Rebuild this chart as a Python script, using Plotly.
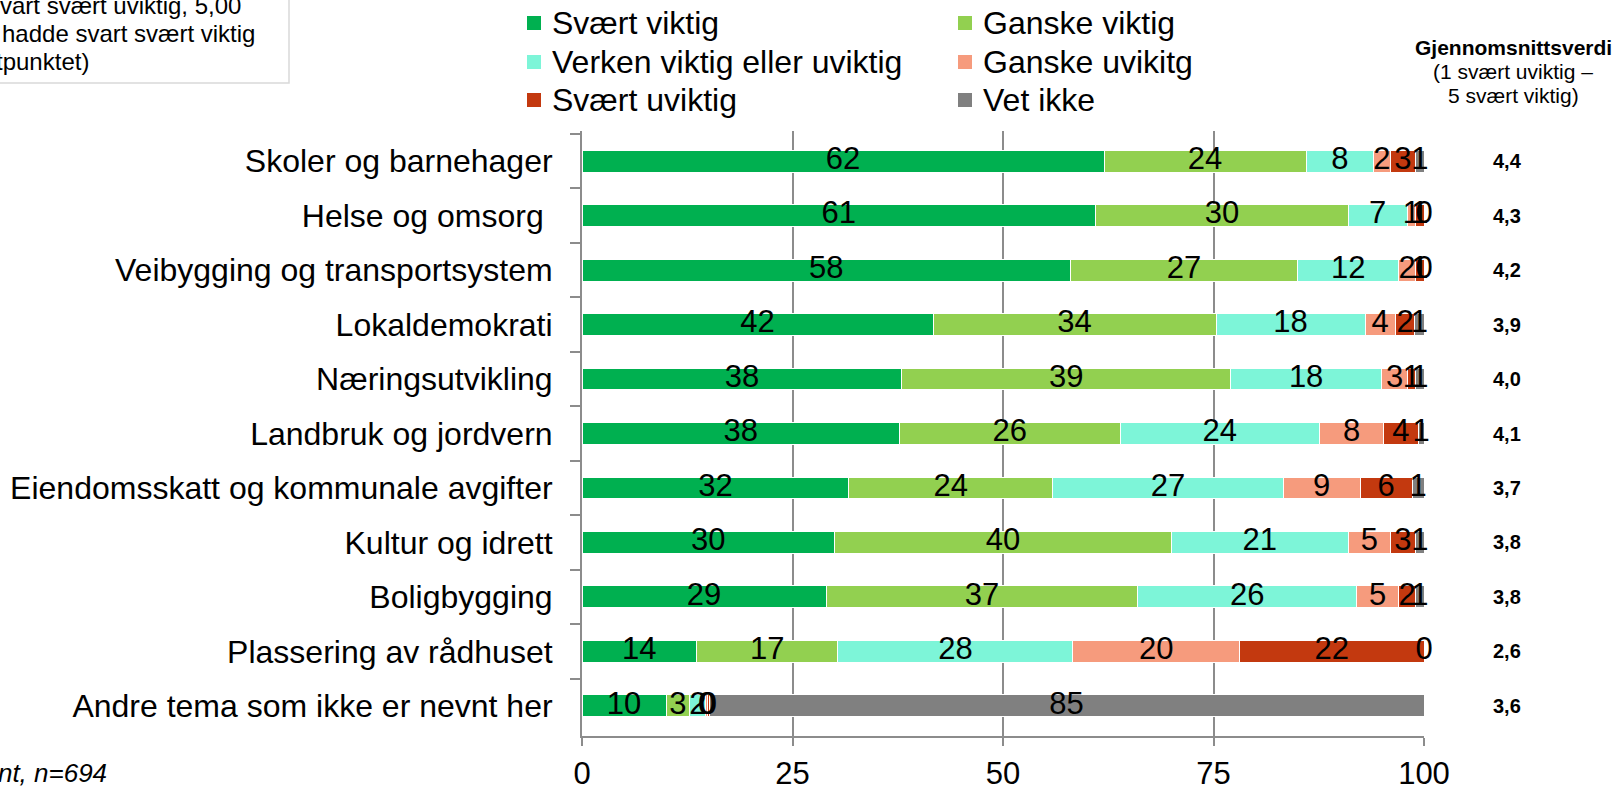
import plotly.graph_objects as go

# Survey: how important are these topics (percent)
categories = [
    "Skoler og barnehager",
    "Helse og omsorg ",
    "Veibygging og transportsystem",
    "Lokaldemokrati",
    "Næringsutvikling",
    "Landbruk og jordvern",
    "Eiendomsskatt og kommunale avgifter",
    "Kultur og idrett",
    "Boligbygging",
    "Plassering av rådhuset",
    "Andre tema som ikke er nevnt her",
]

svaert_viktig = [62, 61, 58, 41.7, 38, 37.7, 31.7, 30, 29, 13.6, 10.0]
ganske_viktig = [24, 30, 27, 33.6, 39, 26.2, 24.2, 40, 37, 16.8, 2.8]
verken = [8, 7, 12, 17.7, 18, 23.7, 27.4, 21, 26, 27.9, 1.9]
ganske_uviktig = [2, 1, 2, 3.6, 3, 7.6, 9.1, 5, 5, 19.8, 0.2]
svaert_uviktig = [3, 1, 1, 2.3, 1, 4.1, 6.2, 3, 2, 21.9, 0.2]
vet_ikke = [1, 0, 0, 1.1, 1, 0.7, 1.4, 1, 1, 0, 84.9]

snitt = ["4,4", "4,3", "4,2", "3,9", "4,0", "4,1", "3,7", "3,8", "3,8", "2,6", "3,6"]

series = [
    ("Svært viktig", svaert_viktig, "#00B050"),
    ("Ganske viktig", ganske_viktig, "#92D050"),
    ("Verken viktig eller uviktig", verken, "#7DF5D8"),
    ("Ganske uvikitg", ganske_uviktig, "#F69B7D"),
    ("Svært uviktig", svaert_uviktig, "#C3390F"),
    ("Vet ikke", vet_ikke, "#808080"),
]

FONT = "Arial, Liberation Sans, sans-serif"

# pixel geometry of the plot area
L, R, T, B = 582, 193, 131, 51
W, H = 1617, 787
PW, PH = W - L - R, H - T - B


def px(x):
    return (x - L) / PW


def py(y):
    return (H - B - y) / PH


fig = go.Figure()

for name, vals, color in series:
    fig.add_trace(go.Bar(
        y=categories, x=vals, name=name, orientation="h",
        marker=dict(color=color, line=dict(color="white", width=1)),
        hoverinfo="x+name", showlegend=False,
    ))

# value labels centred in each segment
lab_x, lab_y, lab_t = [], [], []
for i, cat in enumerate(categories):
    start = 0
    for name, vals, color in series:
        v = vals[i]
        lab_x.append(start + v / 2)
        lab_y.append(cat)
        lab_t.append("%.0f" % v)
        start += v
fig.add_trace(go.Scatter(
    x=lab_x, y=lab_y, text=lab_t, mode="text", showlegend=False,
    textfont=dict(size=31, color="black", family=FONT),
    cliponaxis=False, hoverinfo="skip",
))

# legend drawn by hand: two columns, three rows
leg_cols = [534, 965]
leg_rows = [23, 62, 100]
for k, (name, vals, color) in enumerate(series):
    cx = leg_cols[k % 2]
    cy = leg_rows[k // 2]
    fig.add_shape(type="rect", xref="paper", yref="paper",
                  x0=px(cx - 7), x1=px(cx + 7), y0=py(cy + 7), y1=py(cy - 7),
                  fillcolor=color, line=dict(width=0))
    fig.add_annotation(x=px(cx + 16), xref="paper", y=py(cy), yref="paper",
                       text=name, xanchor="left", yanchor="middle", showarrow=False,
                       font=dict(size=32, color="black", family=FONT))

# average value column
for cat, s in zip(categories, snitt):
    fig.add_annotation(x=px(1507), xref="paper", y=cat, yref="y", text="<b>%s</b>" % s,
                       xanchor="center", showarrow=False,
                       font=dict(size=20, color="black", family=FONT))

for txt, yy in [("<b>Gjennomsnittsverdi</b>", 48),
                ("(1 svært uviktig –", 71),
                ("5 svært viktig)", 95)]:
    fig.add_annotation(x=px(1513), xref="paper", y=py(yy), yref="paper",
                       text=txt, xanchor="center", yanchor="middle", showarrow=False,
                       font=dict(size=21, color="black", family=FONT))

# cut-off note box in the top left corner
fig.add_shape(type="rect", xref="paper", yref="paper",
              x0=px(-30), x1=px(289), y0=py(83), y1=py(-30),
              line=dict(color="#D9D9D9", width=1.5), fillcolor="white", layer="below")
for txt, x0, y0 in [("svart svært uviktig, 5,00", -14, 5),
                    ("hadde svart svært viktig", 0, 33),
                    ("tpunktet)", -6, 62)]:
    fig.add_annotation(x=px(x0), xref="paper", y=py(y0), yref="paper", text=txt,
                       xanchor="left", yanchor="middle", showarrow=False,
                       font=dict(size=24, color="black", family=FONT))

# source note, cut off at the left edge
fig.add_annotation(x=px(109), xref="paper", y=py(773), yref="paper",
                   text="<i>Prosent, n=694</i>", xanchor="right", yanchor="middle",
                   showarrow=False, font=dict(size=26, color="black", family=FONT))

fig.update_layout(
    width=W, height=H,
    margin=dict(l=L, r=R, t=T, b=B, autoexpand=False),
    barmode="stack", bargap=0.6,
    plot_bgcolor="white", paper_bgcolor="white",
    font=dict(family=FONT, color="black"),
    showlegend=False,
    xaxis=dict(
        range=[0, 100], tickvals=[0, 25, 50, 75, 100],
        showgrid=True, gridcolor="#8C8C8C", gridwidth=1.5,
        showline=True, linecolor="#8C8C8C", linewidth=2,
        ticks="outside", ticklen=8, tickcolor="#8C8C8C", tickwidth=1.5,
        tickfont=dict(size=31, family=FONT, color="black"),
        ticklabelstandoff=1,
        zeroline=False, automargin=False,
    ),
    yaxis=dict(
        autorange="reversed", type="category",
        showline=True, linecolor="#8C8C8C", linewidth=2,
        ticks="outside", tickson="boundaries", ticklen=10,
        tickcolor="#8C8C8C", tickwidth=2,
        tickfont=dict(size=32, family=FONT, color="black"),
        ticklabelstandoff=21,
        showgrid=False, automargin=False,
    ),
)

fig.write_html("out.html", config={"displayModeBar": False},
               post_script="document.body.style.margin='0';document.body.style.overflow='hidden';")
